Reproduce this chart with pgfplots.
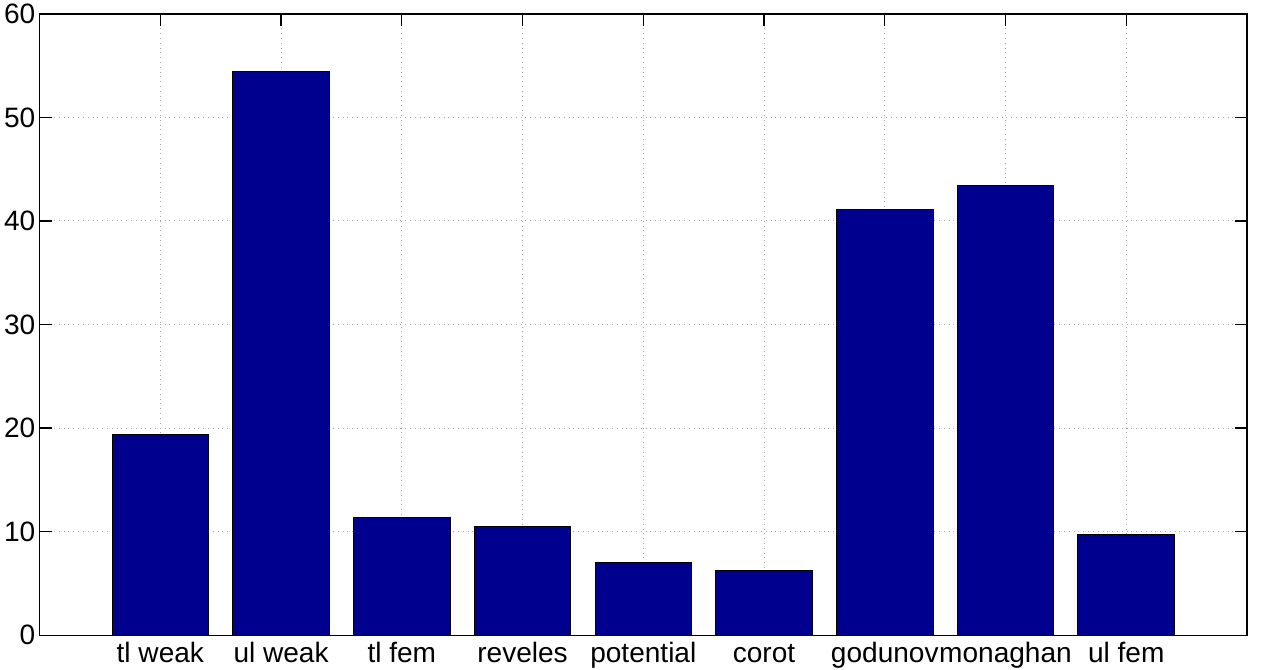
\documentclass[border=0pt]{standalone}
\usepackage{pgfplots}
\pgfplotsset{compat=1.18}
\usepackage{fontspec}
\setmainfont{Liberation Sans}
\definecolor{matblue}{RGB}{0,0,143}
\begin{document}
\begin{tikzpicture}
    \begin{axis}[
        name=ax,
        width=602.5pt,
        height=310pt,
        scale only axis,
        ybar,
        bar width=0.8,
        bar shift=0pt,
        xmin=0, xmax=10,
        ymin=0, ymax=60,
        xtick=data,
        xticklabels={tl weak, ul weak, tl fem, reveles, potential, corot, godunov, monaghan, ul fem},
        ytick={0,10,...,60},
        tick align=inside,
        tick pos=both,
        major tick length=6pt,
        grid=major,
        major grid style={gray!70, dotted, line width=0.5pt},
        axis line style={black, line width=0.6pt},
        tick style={black, line width=0.6pt},
        tick label style={font=\fontsize{14}{16}\selectfont},
        /pgf/number format/assume math mode=true,
        xticklabel style={text height=1.5ex, text depth=0.3ex, inner sep=2pt, yshift=-3.5pt},
        yticklabel style={inner sep=2pt},
    ]
        \addplot[fill=matblue, draw=black, line width=0.5pt]
            coordinates {(1,19.35) (2,54.45) (3,11.4) (4,10.5) (5,7.05) (6,6.2) (7,41.1) (8,43.45) (9,9.7)};
    \end{axis}
    \path (ax.east) ++(7pt,0) coordinate (r);
    \path (r) rectangle (r);
\end{tikzpicture}
\end{document}
